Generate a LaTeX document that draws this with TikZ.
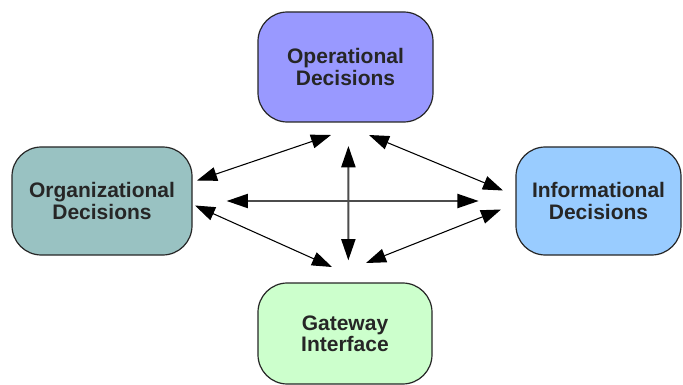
\documentclass[tikz,border=0pt]{standalone}
\usepackage{fontspec}
\setmainfont{Liberation Sans}
\usepackage{xcolor}
\usetikzlibrary{arrows.meta}
\definecolor{opblue}{RGB}{153,153,255}
\definecolor{orgteal}{RGB}{153,194,194}
\definecolor{infoblue}{RGB}{153,204,255}
\definecolor{gwgreen}{RGB}{204,255,204}
\tikzset{
  decision/.style={draw=black!85,line width=0.9pt,rounded corners=22pt,
    align=center,inner sep=0pt,text=black!85,
    font=\fontsize{15.75}{16}\selectfont\bfseries},
  thinlink/.style={line width=0.8pt,
    {Triangle[length=15pt,width=10.5pt]}-{Triangle[length=15pt,width=10.5pt]}},
  thicklink/.style={line width=1.6pt,black!70,
    {Triangle[length=16pt,width=10.5pt,black]}-{Triangle[length=16pt,width=10.5pt,black]}}
}

\begin{document}
\begin{tikzpicture}[x=0.75pt, y=-0.75pt]
\useasboundingbox (0,0) rectangle (683,385);
\node[decision,fill=opblue,minimum width=131.25pt,minimum height=82.5pt]
  (op) at (345.5,67) {Operational\\Decisions};
\node[decision,fill=orgteal,minimum width=135pt,minimum height=81pt]
  (org) at (102,201) {Organizational\\Decisions};
\node[decision,fill=infoblue,minimum width=123.75pt,minimum height=81pt]
  (info) at (598.5,201) {Informational\\Decisions};
\node[decision,fill=gwgreen,minimum width=130.5pt,minimum height=75.75pt]
  (gw) at (345,333.5) {Gateway\\Interface};

% ends of the slanted arrows
\coordinate (orgup) at (197,180.5);
\coordinate (orgdown) at (195,205.5);
\coordinate (opleft) at (331,135);
\coordinate (opright) at (369,135);
\coordinate (infoup) at (503,190.5);
\coordinate (infodown) at (501,209.5);
\coordinate (gwleft) at (332,267);
\coordinate (gwright) at (366,263);

\draw[thinlink] (orgup) -- (opleft);
\draw[thinlink] (opright) -- (infoup);
\draw[thinlink] (orgdown) -- (gwleft);
\draw[thinlink] (gwright) -- (infodown);

\draw[thicklink,shorten <=25.5pt,shorten >=27.5pt] (org) -- (info);
\draw[thicklink,shorten <=17.5pt,shorten >=16.5pt]
  ([xshift=2.2pt]op.south) -- ([xshift=2.5pt]gw.north);
\end{tikzpicture}
\end{document}
